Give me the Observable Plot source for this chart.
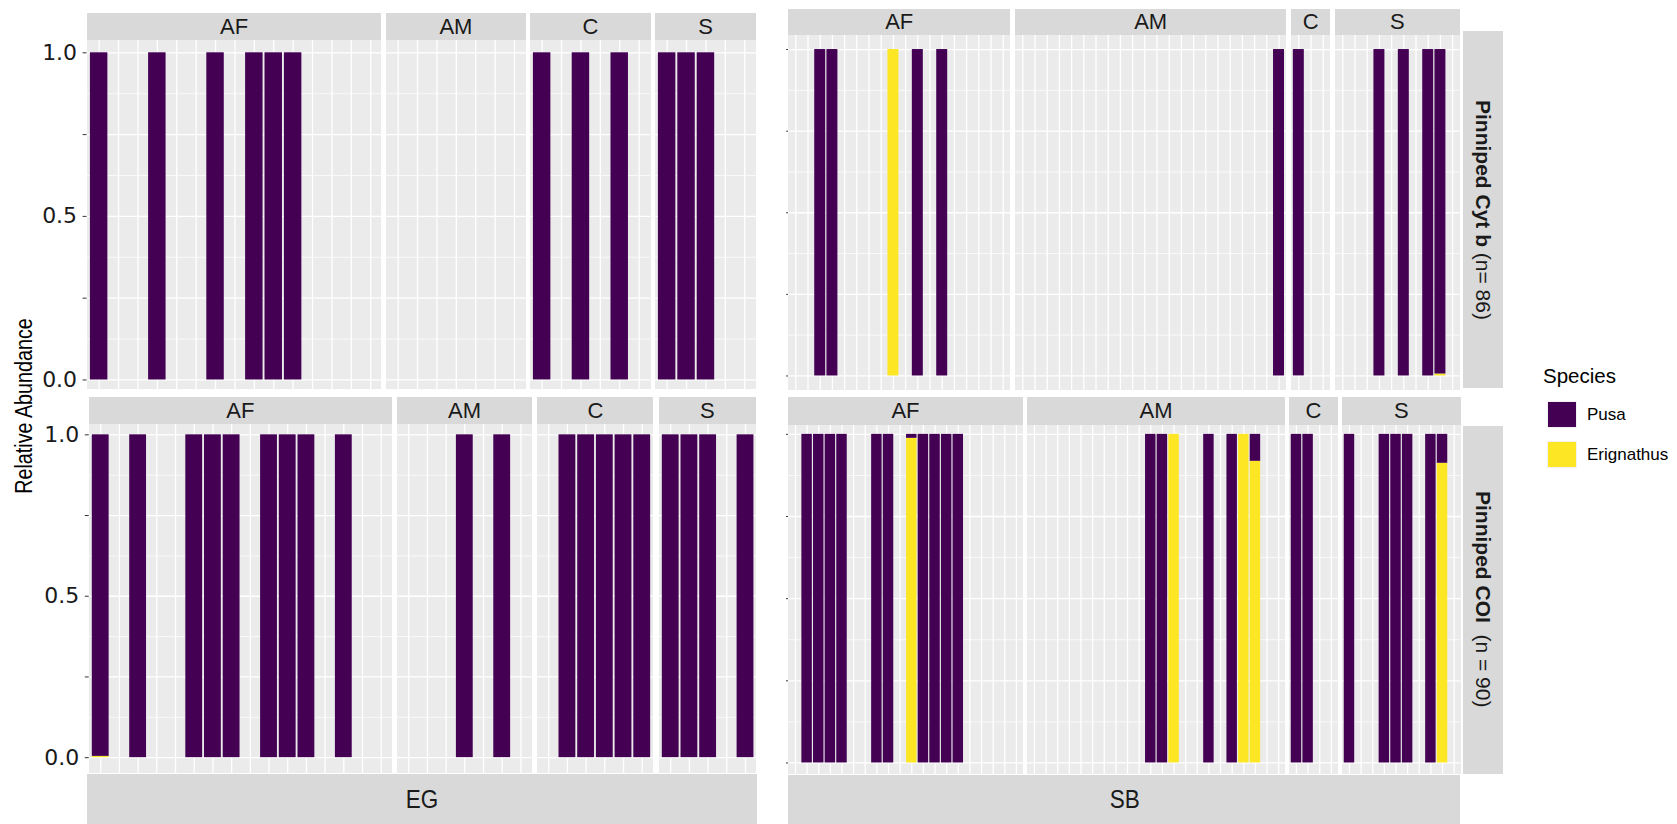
<!DOCTYPE html>
<html>
<head>
<meta charset="utf-8">
<script src="https://cdn.jsdelivr.net/npm/d3@7"></script>
<script src="https://cdn.jsdelivr.net/npm/@observablehq/plot@0.6"></script>
<style>
  html, body { margin: 0; padding: 0; background: #fff; }
  body { font-family: "Liberation Sans", Arial, sans-serif; color: #1a1a1a; }
  #chart { position: relative; width: 1677px; height: 824px; overflow: hidden; background: #fff; }
  .abs { position: absolute; }
  .strip { position: absolute; background: #d9d9d9; color: #1a1a1a; display: flex; align-items: center; justify-content: center; white-space: nowrap; overflow: visible; }
  .panel svg { display: block; }
</style>
</head>
<body>
<div id="chart"></div>
<script>
// ---------------- data ----------------
const regions = ["AF", "AM", "C", "S"];
const species = ["Pusa", "Erignathus"];
const speciesColors = ["#440154", "#FDE725"];
const yTicks = [0, 0.25, 0.5, 0.75, 1];
const yMinor = [0.125, 0.375, 0.625, 0.875];

// number of samples (x positions) per region, in each panel row
const nCytbEG = [15, 7, 6, 5];
const nCytbSB = [18, 22, 3, 10];
const nCoiEG  = [16, 7, 6, 5];
const nCoiSB  = [20, 22, 4, 10];

// Pinniped Cyt b – EG
const cytbEG_region = ["AF","AF","AF","AF","AF","AF","C","C","C","S","S","S"];
const cytbEG_sample = [1, 4, 7, 9, 10, 11, 1, 3, 5, 1, 2, 3];
const cytbEG_pusa   = [1, 1, 1, 1, 1, 1, 1, 1, 1, 1, 1, 1];

// Pinniped Cyt b – SB
const cytbSB_region = ["AF","AF","AF","AF","AF","AM","C","S","S","S","S"];
const cytbSB_sample = [3, 4, 9, 11, 13, 22, 1, 4, 6, 8, 9];
const cytbSB_pusa   = [1, 1, 0, 1, 1, 1, 1, 1, 1, 1, 0.994];

// Pinniped COI – EG
const coiEG_region = ["AF","AF","AF","AF","AF","AF","AF","AF","AF","AM","AM","C","C","C","C","C","S","S","S","S"];
const coiEG_sample = [1, 3, 6, 7, 8, 10, 11, 12, 14, 4, 6, 2, 3, 4, 5, 6, 1, 2, 3, 5];
const coiEG_pusa   = [0.996, 1, 1, 1, 1, 1, 1, 1, 1, 1, 1, 1, 1, 1, 1, 1, 1, 1, 1, 1];

// Pinniped COI – SB
const coiSB_region = ["AF","AF","AF","AF","AF","AF","AF","AF","AF","AF","AF",
                      "AM","AM","AM","AM","AM","AM","AM","C","C","S","S","S","S","S","S"];
const coiSB_sample = [2, 3, 4, 5, 8, 9, 11, 12, 13, 14, 15,
                      11, 12, 13, 16, 18, 19, 20, 1, 2, 1, 4, 5, 6, 8, 9];
const coiSB_pusa   = [1, 1, 1, 1, 1, 1, 0.012, 1, 1, 1, 1,
                      1, 1, 0, 1, 1, 0, 0.082, 1, 1, 1, 1, 1, 1, 1, 0.088];

// ---------------- layout ----------------
const chart = document.getElementById("chart");
function div(cls, css, html) {
  const d = document.createElement("div");
  d.className = cls;
  Object.assign(d.style, css);
  if (html != null) d.innerHTML = html;
  chart.appendChild(d);
  return d;
}
const px = v => v + "px";

const rowSpecs = [
  {x0: 86.6, unit: 19.4, gap: 4.6, stripTop: 13, top: 40, height: 349.5, yDomain: [-0.0306, 1.0376],
   counts: nCytbEG, region: cytbEG_region, sample: cytbEG_sample, pusa: cytbEG_pusa, labels: true},
  {x0: 788.2, unit: 12.2, gap: 5, stripTop: 8.6, top: 35, height: 355.5, yDomain: [-0.046, 1.043],
   counts: nCytbSB, region: cytbSB_region, sample: cytbSB_sample, pusa: cytbSB_pusa, labels: false},
  {x0: 88.8, unit: 18.7, gap: 5.5, stripTop: 397.3, top: 424.3, height: 349, yDomain: [-0.049, 1.032],
   counts: nCoiEG, region: coiEG_region, sample: coiEG_sample, pusa: coiEG_pusa, labels: true},
  {x0: 788, unit: 11.63, gap: 4, stripTop: 397.3, top: 425, height: 349.3, yDomain: [-0.036, 1.027],
   counts: nCoiSB, region: coiSB_region, sample: coiSB_sample, pusa: coiSB_pusa, labels: false}
];

for (const spec of rowSpecs) {
  // y axis
  const axisW = spec.x0;
  const axisPlot = Plot.plot({
    width: axisW + 1, height: spec.height,
    marginLeft: axisW, marginRight: 1, marginTop: 0, marginBottom: 0,
    y: {domain: spec.yDomain},
    style: {overflow: "visible", background: "transparent"},
    marks: [
      Plot.axisY(yTicks, {
        anchor: "left", tickSize: spec.labels ? 4 : 2, tickPadding: 6,
        stroke: "#333",
        tickFormat: spec.labels ? (d => (d * 2) % 1 === 0 ? d.toFixed(1) : "") : (() => ""),
        fontSize: 22, fill: "#1a1a1a", label: null,
        fontFamily: "DejaVu Sans, Liberation Sans, sans-serif"
      })
    ]
  });
  const ad = div("abs panel", {left: "0px", top: px(spec.top), width: px(axisW + 1), height: px(spec.height)});
  ad.appendChild(axisPlot);

  let x = spec.x0;
  regions.forEach((reg, i) => {
    const n = spec.counts[i];
    const w = (n + 0.2) * spec.unit;
    const slots = d3.range(1, n + 1).map(k => reg + k);
    const rows = [];
    spec.region.forEach((r, j) => {
      if (r !== reg) return;
      const id = reg + spec.sample[j];
      const p = spec.pusa[j];
      const e = +(1 - p).toFixed(4);
      if (e > 0) rows.push({sample: id, species: "Erignathus", value: e});
      if (p > 0) rows.push({sample: id, species: "Pusa", value: p});
    });
    const svg = Plot.plot({
      width: w, height: spec.height,
      marginTop: 0, marginRight: 0, marginBottom: 0, marginLeft: 0,
      style: {background: "#ebebeb", overflow: "hidden"},
      x: {type: "band", domain: slots, paddingInner: 0.1, paddingOuter: 0.15, round: false, axis: null},
      y: {domain: spec.yDomain, axis: null},
      color: {domain: species, range: speciesColors},
      marks: [
        Plot.ruleY(yMinor, {stroke: "#ffffff", strokeWidth: 0.7}),
        Plot.ruleY(yTicks, {stroke: "#ffffff", strokeWidth: 1.3}),
        Plot.ruleX(slots, {stroke: "#ffffff", strokeWidth: 1.3}),
        Plot.barY(rows, {x: "sample", y: "value", fill: "species"})
      ]
    });
    const pd = div("abs panel", {left: px(x), top: px(spec.top), width: px(w), height: px(spec.height)});
    pd.appendChild(svg);
    div("strip", {left: px(x), top: px(spec.stripTop), width: px(w), height: px(spec.top - spec.stripTop),
                  fontSize: "22px"}, reg);
    x += w + spec.gap;
  });
}

// bottom strips (site)
div("strip", {left: "86.6px", top: "774.3px", width: "670.6px", height: "49.7px", fontSize: "25px"},
    '<span style="display:inline-block;transform:scaleX(0.9)">EG</span>');
div("strip", {left: "788.2px", top: "775px", width: "672.3px", height: "49px", fontSize: "25px"},
    '<span style="display:inline-block;transform:scaleX(0.9)">SB</span>');

// right strips (marker)
div("strip", {left: "1463px", top: "31px", width: "40px", height: "357px", fontSize: "21px"},
    '<span style="writing-mode:vertical-rl"><b>Pinniped Cyt b</b> (n= 86)</span>');
div("strip", {left: "1463px", top: "425.5px", width: "40px", height: "348px", fontSize: "21px"},
    '<span style="writing-mode:vertical-rl"><b>Pinniped COI</b>&nbsp; (n = 90)</span>');

// y axis title
div("abs", {left: "24px", top: "406px", transform: "translate(-50%,-50%) rotate(-90deg) scaleX(0.84)",
            fontSize: "23.5px", whiteSpace: "nowrap", color: "#000"}, "Relative Abundance");

// legend
div("abs", {left: "1543px", top: "364px", fontSize: "20.5px", color: "#000", lineHeight: "24px"}, "Species");
species.forEach((s, i) => {
  const y = 401 + i * 39.5;
  div("abs", {left: "1547px", top: px(y), width: "30px", height: "27px", background: speciesColors[i],
              boxSizing: "border-box", border: "1px solid #f2f2f2"});
  div("abs", {left: "1587px", top: px(y + 3), fontSize: "17px", color: "#000", lineHeight: "21px"}, s);
});
</script>
</body>
</html>
